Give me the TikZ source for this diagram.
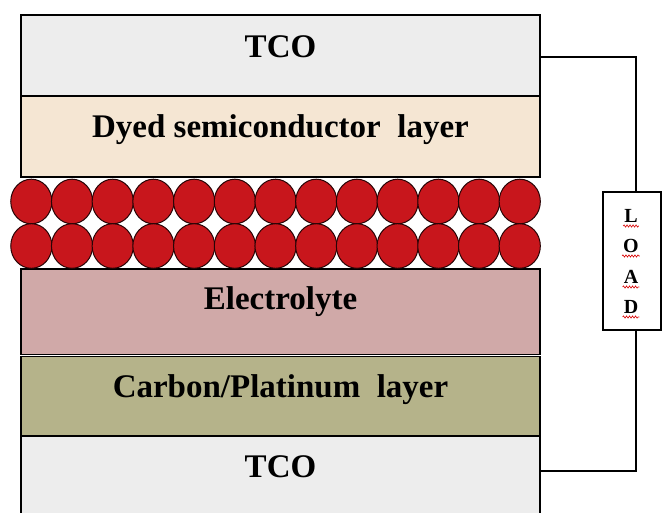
\documentclass[tikz,border=0pt]{standalone}
\usepackage{fontspec}
\setmainfont{Liberation Serif}
\usetikzlibrary{decorations.pathmorphing}

\definecolor{tcogrey}{RGB}{237,237,237}
\definecolor{dyedbeige}{RGB}{245,230,211}
\definecolor{electrolytepink}{RGB}{208,169,168}
\definecolor{carbonolive}{RGB}{181,179,138}
\definecolor{beadred}{RGB}{200,22,28}

\tikzset{
  layer/.style={draw=black, line width=1.6pt, minimum width=519pt, inner sep=0pt},
  layertext/.style={font=\bfseries\fontsize{33}{36}\selectfont, inner sep=0pt, anchor=base},
  bead/.style={fill=beadred, draw=black!80!beadred, line width=1pt},
  wire/.style={draw=black, line width=1.2pt},
  loadletter/.style={font=\bfseries\fontsize{20}{20}\selectfont, inner sep=0pt, anchor=base},
  squiggle/.style={draw=red!85!black, line width=0.6pt, decorate,
    decoration={snake, amplitude=1.1pt, segment length=3pt}}
}

\begin{document}
\begin{tikzpicture}[x=1pt, y=-1pt]
        \clip (0,0) rectangle (663,513);

        \node[layer, fill=tcogrey, minimum height=81pt] (tcotop) at (280.5,55.5) {};
        \node[layer, fill=dyedbeige, minimum height=81pt] (dyed) at (280.5,136.5) {};
        \node[layer, fill=electrolytepink, minimum height=85.5pt] (electrolyte) at (280.5,311.75) {};
        \node[layer, fill=carbonolive, minimum height=79.5pt] (carbon) at (280.5,396.25) {};
        \node[layer, fill=tcogrey, minimum height=87pt] (tcobot) at (280.5,479.5) {};

        \foreach \i in {0,...,12}
            \foreach \yc in {201.5,246}
                \draw[bead] ({31.35+40.7*\i},\yc) ellipse [x radius=20.6pt, y radius=22.3pt];

        \node[layertext] (tcotoptext) at (280.5,58) {TCO};
        \node[layertext] (dyedtext) at (280.5,138) {Dyed semiconductor~ layer};
        \node[layertext] (electrolytetext) at (280.5,309) {Electrolyte};
        \node[layertext] (carbontext) at (280.5,397) {Carbon/Platinum~ layer};
        \node[layertext] (tcobottext) at (280.5,477) {TCO};

        \node[draw, line width=1.2pt, fill=white, minimum width=58pt, minimum height=138pt] (load) at (632,261) {};
        \foreach \l/\yb in {L/222,O/252,A/283,D/313} {
            \node[loadletter] (load\l) at (631,\yb) {\l};
            \draw[squiggle] ([xshift=-1pt,yshift=-4pt]load\l.base west) -- ([xshift=1pt,yshift=-4pt]load\l.base east);
        }

        \draw[wire] ([yshift=-1.5pt]tcotop.east) -| ([xshift=4pt]load.north);
        \draw[wire] ([xshift=4pt]load.south) |- ([yshift=8.5pt]tcobot.east);
\end{tikzpicture}
\end{document}
